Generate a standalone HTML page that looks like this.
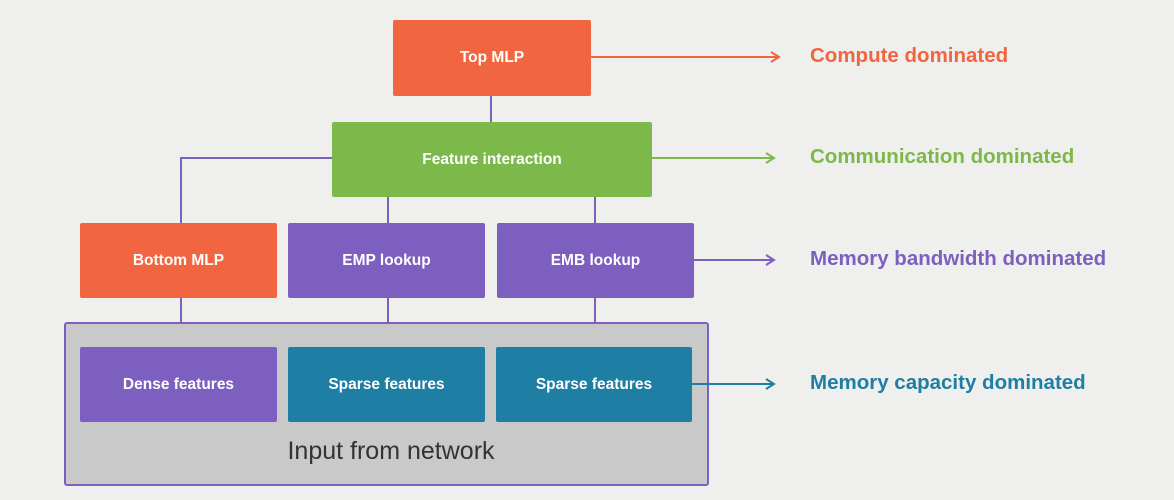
<!DOCTYPE html>
<html><head><style>
body{margin:0;width:1174px;height:500px;background:#efefee;font-family:"Liberation Sans",sans-serif;position:relative;overflow:hidden}
.b{position:absolute;color:#fff;font-weight:bold;font-size:15.5px;display:flex;align-items:center;justify-content:center;border-radius:2px}
.o{background:#f26541}.g{background:#7cb84a}.p{background:#7c5fbf}.t{background:#1f7ea3}
.l{position:absolute;left:810px;font-size:20.5px;font-weight:bold}
</style></head><body>
<svg width="1174" height="500" style="position:absolute;left:0;top:0">
<rect x="65" y="323" width="643" height="162" fill="#c9c9c9" stroke="#7c5fbf" stroke-width="2" rx="2"/>
<g stroke="#7c5fbf" stroke-width="2" fill="none">
<line x1="491" y1="96" x2="491" y2="122"/>
<polyline points="332,158 181,158 181,223"/>
<line x1="388" y1="197" x2="388" y2="223"/>
<line x1="595" y1="197" x2="595" y2="223"/>
<line x1="181" y1="298" x2="181" y2="323"/>
<line x1="388" y1="298" x2="388" y2="323"/>
<line x1="595" y1="298" x2="595" y2="323"/>
</g>
<g stroke-width="2" fill="none">
<line x1="591" y1="57" x2="779" y2="57" stroke="#f26541"/><polyline points="771,52 779,57 771,62" stroke="#f26541"/>
<line x1="652" y1="158" x2="774" y2="158" stroke="#7cb84a"/><polyline points="766,153 774,158 766,163" stroke="#7cb84a"/>
<line x1="694" y1="260" x2="774" y2="260" stroke="#7c5fbf"/><polyline points="766,255 774,260 766,265" stroke="#7c5fbf"/>
<line x1="692" y1="384" x2="774" y2="384" stroke="#1f7ea3"/><polyline points="766,379 774,384 766,389" stroke="#1f7ea3"/>
</g>
</svg>
<div class="b o" style="left:393px;top:20px;width:198px;height:76px">Top MLP</div>
<div class="b g" style="left:332px;top:122px;width:320px;height:75px">Feature interaction</div>
<div class="b o" style="left:80px;top:223px;width:197px;height:75px">Bottom MLP</div>
<div class="b p" style="left:288px;top:223px;width:197px;height:75px">EMP lookup</div>
<div class="b p" style="left:497px;top:223px;width:197px;height:75px">EMB lookup</div>
<div class="b p" style="left:80px;top:347px;width:197px;height:75px">Dense features</div>
<div class="b t" style="left:288px;top:347px;width:197px;height:75px">Sparse features</div>
<div class="b t" style="left:496px;top:347px;width:196px;height:75px">Sparse features</div>
<div style="position:absolute;left:191px;width:400px;text-align:center;top:437px;font-size:25px;color:#333">Input from network</div>
<div class="l" style="top:44px;color:#f26541">Compute dominated</div>
<div class="l" style="top:145px;color:#7cb84a">Communication dominated</div>
<div class="l" style="top:247px;color:#7c5fbf">Memory bandwidth dominated</div>
<div class="l" style="top:371px;color:#1f7ea3">Memory capacity dominated</div>
</body></html>
